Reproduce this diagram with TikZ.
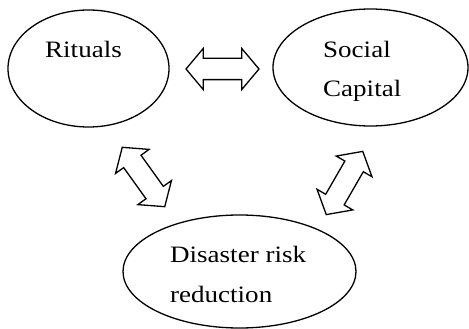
\documentclass[tikz,border=0pt]{standalone}
\usepackage{fontspec}
\setmainfont{Liberation Serif}[FakeStretch=1.15]
\usetikzlibrary{shapes.geometric,shapes.arrows}

\begin{document}
\begin{tikzpicture}[x=1pt, y=-1pt,
    bubble/.style={draw, ellipse, line width=1.3pt, inner sep=0pt},
    link/.style={draw, double arrow, line width=1.3pt, inner sep=10pt,
      minimum height=73pt, double arrow head extend=10pt,
      double arrow tip angle=100},
    word/.style={anchor=base west, inner sep=0pt, align=left,
      font=\fontsize{23.5}{39.5}\selectfont}]
    \useasboundingbox (0,0) rectangle (469,329);

    % the three ellipses
    \node[bubble, minimum width=161pt, minimum height=117pt] (rituals) at (88.5,68.5) {};
    \node[bubble, minimum width=195pt, minimum height=117pt] (social) at (370.5,67.5) {};
    \node[bubble, minimum width=233pt, minimum height=113pt] (drr) at (239.5,271.5) {};

    % their texts (base = last line)
    \node[word] (ritualstxt) at (45,58) {Rituals};
    \node[word] (socialtxt) at (323,97) {Social\\Capital};
    \node[word] (drrtxt) at (170,302) {Disaster risk\\reduction};

    % block arrows in between
    \node[link] (rs) at (222.5,69) {};
    \node[link, rotate=-54.4] (rd) at (143.5,177) {};
    \node[link, rotate=60] (sd) at (344.5,183) {};
\end{tikzpicture}
\end{document}
